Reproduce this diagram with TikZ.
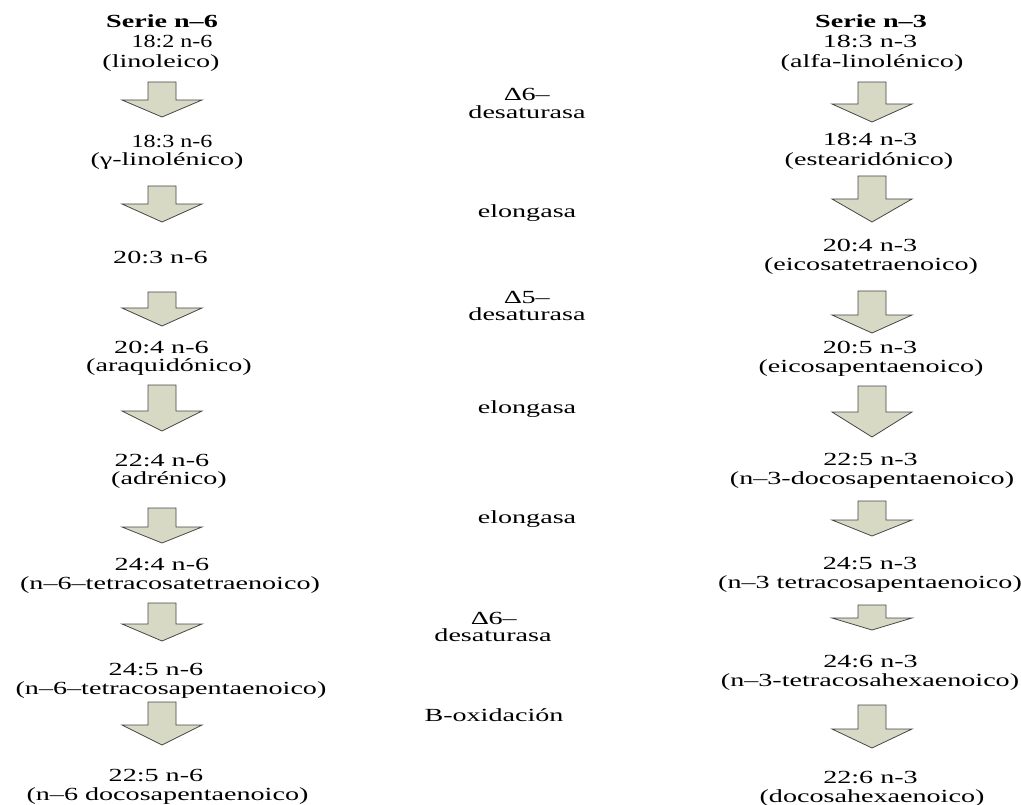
\documentclass[tikz,border=0pt]{standalone}
\usepackage{fontspec}
\setmainfont{Liberation Serif}[FakeStretch=1.52]
\newfontfamily\narrowserif{Liberation Serif}[FakeStretch=1.3]
\definecolor{arrowfill}{RGB}{216,217,197}
\definecolor{arrowline}{RGB}{70,70,70}
% block arrow pointing down: centre x, shaft top, head base, tip
\newcommand\pathwayarrow[4]{%
  \draw[blockarrow] (#1-14,#2) -- (#1+14,#2) -- (#1+14,#3) -- (#1+40,#3)
    -- (#1,#4) -- (#1-40,#3) -- (#1-14,#3) -- cycle;}
\begin{document}
\begin{tikzpicture}[x=1pt,y=-1pt,
  lbl/.style={anchor=base, inner sep=0pt, font=\fontsize{18.5}{20}\selectfont},
  head/.style={lbl, font=\fontsize{18.5}{20}\selectfont\bfseries},
  blockarrow/.style={fill=arrowfill, draw=arrowline, line width=0.8pt, line join=miter}]
\useasboundingbox (0,0) rectangle (1021,805);

% ---- serie n-6 ----
\node[head] (h6) at (162,28) {Serie n–6};
\node[lbl] (f1) at (172,48) {\narrowserif 18:2 n-6};
\node[lbl] (n1) at (161,68) {(linoleico)};
\node[lbl] (f2) at (172,148) {\narrowserif 18:3 n-6};
\node[lbl] (n2) at (167,166) {(γ-linolénico)};
\node[lbl] (f3) at (160.5,264) {20:3 n-6};
\node[lbl] (f4) at (161.5,353) {20:4 n-6};
\node[lbl] (n4) at (169,371) {(araquidónico)};
\node[lbl] (f5) at (162,466) {22:4 n-6};
\node[lbl] (n5) at (169,484) {(adrénico)};
\node[lbl] (f6) at (162,570) {24:4 n-6};
\node[lbl] (n6) at (170,589) {(n–6–tetracosatetraenoico)};
\node[lbl] (f7) at (156,675) {24:5 n-6};
\node[lbl] (n7) at (171,694) {(n–6–tetracosapentaenoico)};
\node[lbl] (f8) at (156,781) {22:5 n-6};
\node[lbl] (n8) at (167.5,800) {(n–6 docosapentaenoico)};

\pathwayarrow{162}{82}{100}{117}
\pathwayarrow{162}{186}{204}{222}
\pathwayarrow{162}{292}{308}{326}
\pathwayarrow{162}{385}{411}{431}
\pathwayarrow{162}{508}{527}{543}
\pathwayarrow{162}{603}{624}{641}
\pathwayarrow{162}{702}{725}{745}

% ---- enzymes ----
\node[lbl] (e1a) at (527,101) {∆6–};
\node[lbl] (e1b) at (527,119) {desaturasa};
\node[lbl] (e2) at (527,218) {elongasa};
\node[lbl] (e3a) at (527,304) {∆5–};
\node[lbl] (e3b) at (527,321) {desaturasa};
\node[lbl] (e4) at (527,413) {elongasa};
\node[lbl] (e5) at (527,523) {elongasa};
\node[lbl] (e6a) at (494,624) {∆6–};
\node[lbl] (e6b) at (493,641) {desaturasa};
\node[lbl] (e7) at (494,721) {B-oxidación};

% ---- serie n-3 ----
\node[head] (h3) at (871,28) {Serie n–3};
\node[lbl] (g1) at (870,48) {18:3 n-3};
\node[lbl] (m1) at (872,68) {(alfa-linolénico)};
\node[lbl] (g2) at (870,146) {18:4 n-3};
\node[lbl] (m2) at (869,166) {(estearidónico)};
\node[lbl] (g3) at (870,252) {20:4 n-3};
\node[lbl] (m3) at (871,271) {(eicosatetraenoico)};
\node[lbl] (g4) at (870,354) {20:5 n-3};
\node[lbl] (m4) at (871,373) {(eicosapentaenoico)};
\node[lbl] (g5) at (870.5,465) {22:5 n-3};
\node[lbl] (m5) at (872,484) {(n–3-docosapentaenoico)};
\node[lbl] (g6) at (870,569) {24:5 n-3};
\node[lbl] (m6) at (870,588) {(n–3 tetracosapentaenoico)};
\node[lbl] (g7) at (870.5,667) {24:6 n-3};
\node[lbl] (m7) at (870,686) {(n–3-tetracosahexaenoico)};
\node[lbl] (g8) at (870.5,783) {22:6 n-3};
\node[lbl] (m8) at (872,802) {(docosahexaenoico)};

\pathwayarrow{872}{82}{104}{122}
\pathwayarrow{872}{176}{199}{222}
\pathwayarrow{872}{291}{315}{333}
\pathwayarrow{872}{386}{412}{437}
\pathwayarrow{872}{501}{520}{536}
\pathwayarrow{872}{605}{618}{630}
\pathwayarrow{872}{705}{729}{748}
\end{tikzpicture}
\end{document}
